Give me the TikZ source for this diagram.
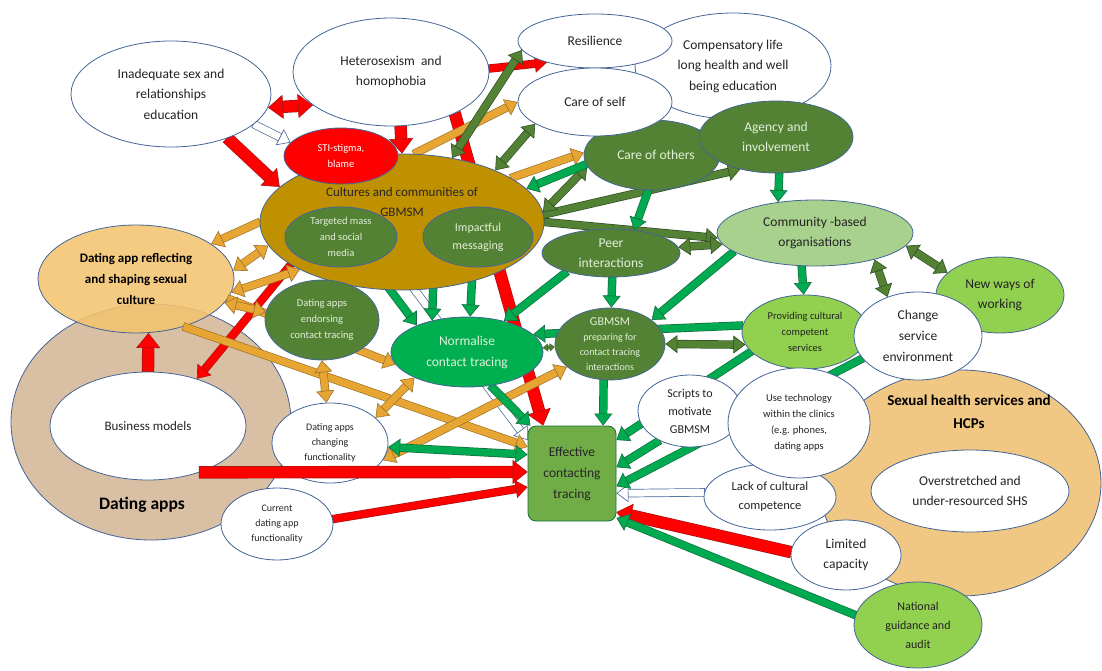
\documentclass[tikz,border=0pt]{standalone}
\usepackage{fontspec}
\setmainfont{Carlito}
\usetikzlibrary{arrows.meta,shapes.geometric}
\pgfdeclarelayer{bg}
\pgfdeclarelayer{links}
\pgfsetlayers{bg,links,main}

\definecolor{ol}{RGB}{68,100,150}
\definecolor{txt}{RGB}{35,35,35}
\definecolor{ltx}{RGB}{226,240,217}
\definecolor{culg}{RGB}{191,144,0}
\definecolor{dgr}{RGB}{84,130,53}
\definecolor{mgr}{RGB}{0,176,80}
\definecolor{lgr}{RGB}{146,208,80}
\definecolor{cbog}{RGB}{169,209,142}
\definecolor{effg}{RGB}{112,173,71}
\definecolor{tanb}{RGB}{217,192,164}
\definecolor{refo}{RGB}{243,196,112}
\definecolor{shso}{RGB}{240,200,132}
\definecolor{arred}{RGB}{255,0,0}
\definecolor{arredd}{RGB}{170,20,20}
\definecolor{aror}{RGB}{231,166,52}
\definecolor{arord}{RGB}{160,115,40}
\definecolor{ardg}{RGB}{84,130,53}
\definecolor{ardgd}{RGB}{48,80,38}
\definecolor{armg}{RGB}{0,170,80}
\definecolor{armgd}{RGB}{20,110,60}

\tikzset{
  ell/.style={ellipse, draw=ol, line width=.8pt, inner sep=0pt, align=center,
    font=\fontsize{13.5}{20.5}\selectfont},
  wn/.style={ell, fill=white, text=txt},
  dg/.style={ell, fill=dgr, text=ltx},
  lg/.style={ell, fill=lgr, text=txt},
  sz/.style 2 args={minimum width=#1pt, minimum height=#2pt},
  fa/.style={font=\fontsize{10}{15}\selectfont},
  fb/.style={font=\fontsize{10.5}{16}\selectfont},
  fc/.style={font=\fontsize{12}{18}\selectfont},
  blk/.style 2 args={draw=#1, line width=7pt,
    preaction={draw=#2, line width=8.4pt, arrows=-, shorten >=10pt, shorten <=-.7pt},
    -{Triangle[length=12pt,width=18pt,fill=#1,color=#2,line width=.6pt]}},
  bblk/.style 2 args={draw=#1, line width=7pt,
    preaction={draw=#2, line width=8.4pt, arrows=-, shorten >=10pt, shorten <=10pt},
    {Triangle[length=12pt,width=18pt,fill=#1,color=#2,line width=.6pt]}-{Triangle[length=12pt,width=18pt,fill=#1,color=#2,line width=.6pt]}},
  wblk/.style 2 args={draw=#1, line width=11pt,
    preaction={draw=#2, line width=12.4pt, arrows=-, shorten >=13pt, shorten <=-.7pt},
    -{Triangle[length=15pt,width=24pt,fill=#1,color=#2,line width=.6pt]}},
  wbblk/.style 2 args={draw=#1, line width=11pt,
    preaction={draw=#2, line width=12.4pt, arrows=-, shorten >=13pt, shorten <=13pt},
    {Triangle[length=15pt,width=24pt,fill=#1,color=#2,line width=.6pt]}-{Triangle[length=15pt,width=24pt,fill=#1,color=#2,line width=.6pt]}},
  sbblk/.style 2 args={draw=#1, line width=3pt,
    preaction={draw=#2, line width=3.8pt, arrows=-, shorten >=4pt, shorten <=4pt},
    {Triangle[length=5pt,width=8pt,fill=#1,color=#2,line width=.4pt]}-{Triangle[length=5pt,width=8pt,fill=#1,color=#2,line width=.4pt]}},
  redar/.style={blk={arred}{arredd}},
  redaw/.style={wblk={arred}{arredd}},
  redbw/.style={wbblk={arred}{arredd}},
  orar/.style={blk={aror}{arord}},
  orbi/.style={bblk={aror}{arord}},
  dgar/.style={blk={ardg}{ardgd}},
  dgbi/.style={bblk={ardg}{ardgd}},
  dgsm/.style={sbblk={ardg}{ardgd}},
  mgar/.style={blk={armg}{armgd}},
  mgbi/.style={bblk={armg}{armgd}},
  whar/.style={blk={white}{ol}},
}

\begin{document}
\begin{tikzpicture}[x=1pt,y=-1pt]
\useasboundingbox (0,0) rectangle (1102,671);

\begin{pgfonlayer}{bg}
  \node[ell, fill=tanb, sz={280}{236}] (dapps) at (151,422) {};
  \node[font=\fontsize{17.5}{20}\selectfont\bfseries, text=black] (dappstxt) at (142,505) {Dating apps};
  \node[ell, fill=refo, fill opacity=.88, text opacity=1, sz={196}{108}, text=black,
        font=\fontsize{13}{21}\selectfont\bfseries] (refl) at (136,279)
        {Dating app reflecting\\and shaping sexual\\culture};
  \node[ell, fill=shso, sz={282}{226}] (shs) at (960,483) {};
  \node[font=\fontsize{15}{23}\selectfont\bfseries, text=black, align=center] (shstxt) at (969,412)
        {Sexual health services and\\HCPs};
\end{pgfonlayer}

\node[wn, sz={200}{106}] (ined) at (171,94) {Inadequate sex and\\relationships\\education};
\node[wn, sz={196}{108}] (hetero) at (391,72) {Heterosexism\ \ and\\homophobia};
\node[ell, fill=culg, sz={284}{136}] (cult) at (402,222) {};
\node[text=black!85, align=center, font=\fontsize{13}{20}\selectfont] (culttxt) at (402,202)
      {Cultures and communities of\\GBMSM};
\node[ell, fill=arred, text=white, fb, sz={114}{56}] (sti) at (341,156) {STI-stigma,\\blame};
\node[dg, fb, inner sep=-2pt, sz={112}{60}] (targ) at (341,237) {Targeted mass\\and social\\media};
\node[dg, fc, sz={110}{60}] (impact) at (478,237) {Impactful\\messaging};
\node[wn, font=\fontsize{13}{20}\selectfont, sz={196}{108}] (busi) at (148,426) {Business models};
\node[dg, fb, sz={114}{80}] (endo) at (322,320) {Dating apps\\endorsing\\contact tracing};
\node[ell, fill=mgr, text=ltx, font=\fontsize{13.5}{21}\selectfont, sz={152}{70}] (norm) at (467,352)
      {Normalise\\contact tracing};
\node[dg, fa, inner sep=-3pt, sz={110}{72}] (prep) at (610,344)
      {{\fontsize{12}{15}\selectfont GBMSM}\\preparing for\\contact tracing\\interactions};
\node[wn, fa, sz={116}{80}] (chgf) at (330,443) {Dating apps\\changing\\functionality};
\node[wn, fa, sz={112}{72}] (curf) at (277,524) {Current\\dating app\\functionality};
\node[rectangle, rounded corners=8pt, draw=armgd, line width=.8pt, fill=effg, text=black!85,
      align=center, font=\fontsize{13.5}{21}\selectfont, minimum width=88pt, minimum height=95pt]
      (eff) at (572,473.5) {Effective\\contacting\\tracing};
\node[wn, sz={196}{106}] (comp) at (733,66) {Compensatory life\\long health and well\\being education};
\node[dg, sz={136}{70}] (cothers) at (652,155) {\hspace{8pt}Care of others};
\node[wn, sz={154}{54}] (resil) at (595,41) {Resilience};
\node[wn, sz={154}{68}] (cself) at (595,102) {Care of self};
\node[dg, sz={154}{72}] (agency) at (776,137) {Agency and\\involvement};
\node[dg, inner sep=-2pt, sz={138}{48}] (peer) at (611,253) {Peer\\interactions};
\node[ell, fill=cbog, text=txt, sz={196}{66}] (cbo) at (815,233) {Community -based\\organisations};
\node[lg, sz={128}{76}] (newway) at (1000,295) {New ways of\\working};
\node[lg, fb, sz={126}{74}] (prov) at (805,332) {Providing cultural\\competent\\services};
\node[wn, font=\fontsize{13.5}{21}\selectfont, sz={128}{88}] (chgs) at (918,336) {Change\\service\\environment};
\node[wn, fc, sz={104}{72}] (scripts) at (690,411) {Scripts to\\motivate\\GBMSM};
\node[wn, font=\fontsize{12.5}{19}\selectfont, sz={132}{66}] (lack) at (770,497) {Lack of cultural\\competence};
\node[wn, fb, inner sep=-2pt, sz={142}{110}] (tech) at (799,423)
      {Use technology\\within the clinics\\(e.g. phones,\\dating apps};
\node[wn, sz={110}{70}] (limit) at (846,555) {Limited\\capacity};
\node[lg, font=\fontsize{12}{19}\selectfont, sz={128}{86}] (natl) at (918,625) {National\\guidance and\\audit};
\node[wn, sz={198}{82}] (over) at (970,491) {Overstretched and\\under-resourced SHS};

\begin{pgfonlayer}{links}
  \draw[redbw] (ined.-8) -- (hetero.203);
  \draw[redaw] (ined.-38) -- (cult.164);
  \draw[redaw] (hetero.-80) -- (cult.90);
  \draw[redar] (hetero.2) -- (resil.204);
  \draw[redaw] (hetero.-33) -- (eff.121);
  \draw[redar] (cult.201) -- (busi.44);
  \draw[redaw] (busi.90) -- (refl.-77);
  \draw[redar] (curf.5) -- (eff.197);
  \draw[redaw] (limit.177) -- (eff.-41);
  \foreach \a/\b in {ined.-20/sti.165, targ.-20/eff.143, lack.176/eff.-24}
    \draw[whar] (\a) -- (\b);
  \foreach \a/\b in {cult.80/cself.180, cult.22/cothers.178, cult.180/refl.25,
                     refl.-45/eff.149, refl.-12/norm.190}
    \draw[orar] (\a) -- (\b);
  \foreach \a/\b in {cult.190/refl.5, cult.205/refl.-8, endo.172/refl.-15,
                     endo.-90/chgf.95, chgf.29/norm.206, chgf.-18/prep.208}
    \draw[orbi] (\a) -- (\b);
  \foreach \a/\b in {cult.3/agency.222, cult.0/cbo.183}
    \draw[dgar] (\a) -- (\b);
  \foreach \a/\b in {cult.52/resil.187, cult.29/cself.200, cult.4/cothers.190, peer.5/cbo.187,
                     prep.0/prov.192, cbo.-24/chgs.128, cbo.-8/newway.157}
    \draw[dgbi] (\a) -- (\b);
  \draw[dgsm] (targ.0) -- (impact.180);
  \draw[dgsm] (norm.3) -- (prep.183);
  \foreach \a/\b in {targ.-42/norm.152, cult.-65/norm.138, impact.-100/norm.85, peer.203/norm.40,
                     cothers.-96/peer.45, cothers.188/cult.15, agency.-85/cbo.140, peer.-87/prep.88,
                     cbo.193/prep.30, cbo.-112/prov.92, prov.174/norm.15, prep.-100/eff.57,
                     norm.-55/eff.131, prov.200/eff.37, scripts.224/eff.8, chgs.202/eff.-16,
                     natl.171/eff.-45}
    \draw[mgar] (\a) -- (\b);
  \draw[mgbi] (chgf.-4) -- (eff.157);
\end{pgfonlayer}
\draw[redaw] (busi.-42) -- (eff.178);
\end{tikzpicture}
\end{document}
